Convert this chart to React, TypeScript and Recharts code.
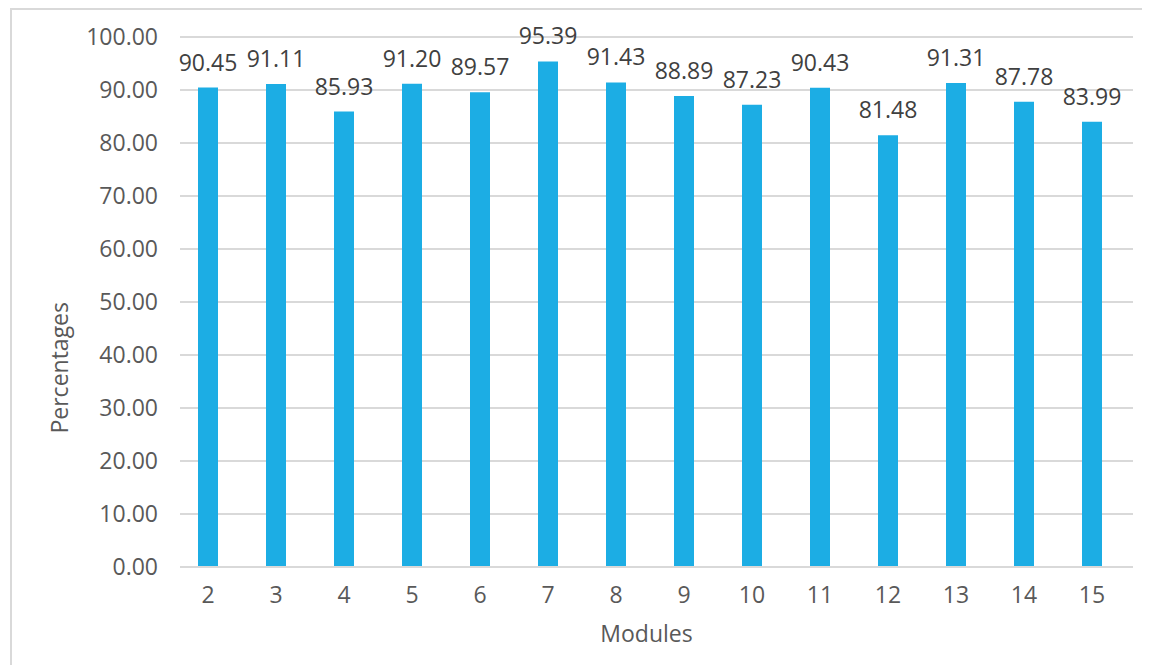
import { Bar, BarChart, CartesianGrid, LabelList, XAxis, YAxis } from "recharts";

// Office "Blue II" look — flat blue bars, grey text and grid
const BLUE = "#1CADE4";
const TEXT = "#595959";
const LABEL = "#404040";
const GRID = "#D9D9D9";
const FONT = "'Open Sans', 'Liberation Sans', Arial, sans-serif";
const FS = 23;

const modules = ["2", "3", "4", "5", "6", "7", "8", "9", "10", "11", "12", "13", "14", "15"];
const percentages = [90.45, 91.11, 85.93, 91.2, 89.57, 95.39, 91.43, 88.89, 87.23, 90.43, 81.48, 91.31, 87.78, 83.99];
const yTicks = [0, 10, 20, 30, 40, 50, 60, 70, 80, 90, 100];

const data = modules.map((m, i) => ({ m, v: percentages[i] }));

export default function App() {
  return (
    <div
      style={{
        marginLeft: 2,
        width: 1130,
        height: 655,
        borderTop: `2px solid ${GRID}`,
        borderLeft: `2px solid ${GRID}`,
        background: "#fff",
        overflow: "hidden",
        fontFamily: FONT,
      }}
    >
      <BarChart
        width={1128}
        height={647}
        data={data}
        margin={{ top: 27, right: 7, bottom: 10, left: 108 }}
        barCategoryGap={0}
      >
        <CartesianGrid stroke={GRID} strokeWidth={2} vertical={false} />
        <XAxis
          dataKey="m"
          height={80}
          padding={{ left: -6, right: 7 }}
          tickLine={false}
          tickSize={0}
          tickMargin={20}
          axisLine={{ stroke: GRID, strokeWidth: 2 }}
          tick={{ fontSize: FS, fill: TEXT, fontFamily: FONT }}
          label={{ value: "Modules", position: "insideBottom", offset: 5, dx: -10, fontSize: FS, fill: TEXT, fontFamily: FONT }}
        />
        <YAxis
          width={60}
          domain={[0, 100]}
          ticks={yTicks}
          interval={0}
          tickFormatter={(v: number) => v.toFixed(2)}
          axisLine={false}
          tickLine={false}
          tickSize={0}
          tickMargin={22}
          tick={{ fontSize: FS, fill: TEXT, fontFamily: FONT }}
          label={{ value: "Percentages", angle: -90, position: "left", offset: 60, fontSize: FS, fill: TEXT, fontFamily: FONT }}
        />
        <Bar dataKey="v" fill={BLUE} barSize={20} isAnimationActive={false}>
          <LabelList
            dataKey="v"
            position="top"
            offset={17}
            formatter={(v: number) => v.toFixed(2)}
            style={{ fontSize: FS, fill: LABEL, fontFamily: FONT }}
          />
        </Bar>
      </BarChart>
    </div>
  );
}
